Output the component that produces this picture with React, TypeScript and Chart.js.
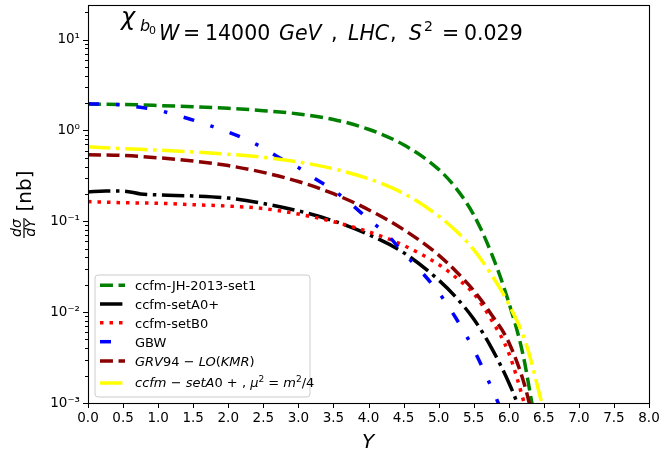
import React, { useEffect, useRef } from "react";
import { Chart, registerables } from "chart.js";
Chart.register(...registerables);

const FONT = "DejaVu Sans";

// ---- data ----
const seriesNames = [
  "ccfm-JH-2013-set1",
  "ccfm-setA0+",
  "ccfm-setB0",
  "GBW",
  "GRV94 − LO(KMR)",
  "ccfm − setA0 + , μ² = m²/4",
];

const greenX = [0, 0.5, 1, 1.5, 2, 2.5, 3, 3.5, 4, 4.5, 5, 5.25, 5.5, 5.75, 6, 6.2, 6.33, 6.45];
const greenV = [1.95, 1.93, 1.88, 1.82, 1.75, 1.65, 1.52, 1.32, 1.03, 0.695, 0.373, 0.23, 0.118, 0.045, 0.0128, 0.0035, 0.001, 0.0003];

const blackX = [0, 0.25, 0.5, 0.75, 1, 1.5, 2, 2.5, 3, 3.5, 4, 4.5, 5, 5.25, 5.5, 5.75, 6, 6.12, 6.25];
const blackV = [0.21, 0.215, 0.215, 0.2, 0.195, 0.19, 0.18, 0.157, 0.13, 0.101, 0.0716, 0.0452, 0.0226, 0.0145, 0.0084, 0.0041, 0.00168, 0.001, 0.0005];

const redX = [0, 0.5, 1, 1.5, 2, 2.5, 3, 3.5, 4, 4.5, 5, 5.25, 5.5, 5.75, 6, 6.22, 6.4];
const redV = [0.165, 0.16, 0.158, 0.152, 0.147, 0.138, 0.12, 0.099, 0.0767, 0.0543, 0.0335, 0.024, 0.016, 0.0083, 0.00355, 0.001, 0.0003];

const blueX = [0, 0.5, 0.8, 1, 1.25, 1.5, 1.75, 2, 2.25, 2.5, 2.75, 3, 3.25, 3.5, 3.75, 4, 4.25, 4.5, 4.75, 5, 5.25, 5.5, 5.75, 5.85, 6.0];
const blueV = [1.96, 1.9, 1.77, 1.67, 1.48, 1.3, 1.12, 0.96, 0.8, 0.64, 0.49, 0.39, 0.29, 0.22, 0.155, 0.105, 0.073, 0.045, 0.028, 0.0165, 0.0085, 0.0039, 0.0015, 0.001, 0.0005];

const maroonX = [0, 0.5, 1, 1.5, 2, 2.5, 3, 3.5, 4, 4.5, 5, 5.25, 5.5, 5.75, 6, 6.25, 6.4];
const maroonV = [0.54, 0.53, 0.5, 0.46, 0.41, 0.345, 0.274, 0.201, 0.134, 0.081, 0.0425, 0.028, 0.0173, 0.0095, 0.00466, 0.00135, 0.0004];

const yellowX = [0, 0.5, 1, 1.5, 2, 2.5, 3, 3.5, 4, 4.5, 5, 5.25, 5.5, 5.75, 6, 6.25, 6.47, 6.6];
const yellowV = [0.66, 0.63, 0.607, 0.579, 0.547, 0.505, 0.45, 0.378, 0.294, 0.203, 0.114, 0.078, 0.0488, 0.026, 0.01225, 0.0044, 0.001, 0.0004];

const xMin = 0;
const xMax = 8;
const xStep = 0.5;
const yMin = 1e-3;
const yMax = 24;
const yTickValues = [1e-3, 1e-2, 1e-1, 1, 10];
const yTickLabels = ["10⁻³", "10⁻²", "10⁻¹", "10⁰", "10¹"];

// ---- styles ----
const LW = 3.5;
const styles = [
  { color: "#008000", dash: [12.95, 5.6] },
  { color: "#000000", dash: [22.4, 5.6, 3.5, 5.6] },
  { color: "#ff0000", dash: [3.5, 6] },
  { color: "#0000ff", dash: [11, 17, 3.5, 17] },
  { color: "#8b0000", dash: [12.95, 5.6] },
  { color: "#ffff00", dash: [22.4, 5.6, 3.5, 5.6] },
];

const allX = [greenX, blackX, redX, blueX, maroonX, yellowX];
const allV = [greenV, blackV, redV, blueV, maroonV, yellowV];

type Run = { t: string; f: string; dy?: number; x?: number };
function drawRuns(ctx: CanvasRenderingContext2D, x: number, y: number, runs: Run[]) {
  let cx = x;
  for (const r of runs) {
    ctx.font = r.f;
    if (r.x !== undefined) cx = r.x;
    ctx.fillText(r.t, cx, y + (r.dy || 0));
    cx += ctx.measureText(r.t).width;
  }
  return cx;
}

const it = (s: number) => `italic ${s}px ${FONT}`;
const rm = (s: number) => `${s}px ${FONT}`;

const legendRuns: Run[][] = [
  [{ t: "ccfm-JH-2013-set1", f: rm(13) }],
  [{ t: "ccfm-setA0+", f: rm(13) }],
  [{ t: "ccfm-setB0", f: rm(13) }],
  [{ t: "GBW", f: rm(13) }],
  [
    { t: "GRV", f: it(13) },
    { t: "94", f: rm(13) },
    { t: " − ", f: rm(13) },
    { t: "LO", f: it(13) },
    { t: "(", f: rm(13) },
    { t: "KMR", f: it(13) },
    { t: ")", f: rm(13) },
  ],
  [
    { t: "ccfm", f: it(13) },
    { t: " − ", f: rm(13) },
    { t: "setA", f: it(13) },
    { t: "0 + , ", f: rm(13) },
    { t: "μ", f: it(13) },
    { t: "2", f: rm(9), dy: -5 },
    { t: " = ", f: rm(13) },
    { t: "m", f: it(13) },
    { t: "2", f: rm(9), dy: -5 },
    { t: "/4", f: rm(13) },
  ],
];

const TS = 20.5;
const titleRuns: Run[] = [
  { t: "W", f: it(TS), x: 159 },
  { t: "=", f: rm(TS), x: 183 },
  { t: "14000", f: rm(TS), x: 205 },
  { t: "GeV", f: it(TS), x: 279 },
  { t: ",", f: rm(TS), x: 331 },
  { t: "LHC", f: it(TS), x: 348 },
  { t: ",", f: rm(TS), x: 390 },
  { t: "S", f: it(TS), x: 409 },
  { t: "2", f: rm(14), dy: -9, x: 424 },
  { t: "=", f: rm(TS), x: 442 },
  { t: "0.029", f: rm(TS), x: 464 },
];

const decoPlugin = {
  id: "deco",
  afterDatasetsDraw(chart: any) {
    const { ctx, chartArea: ca, scales } = chart;
    const xs = scales.x;
    const ys = scales.y;
    ctx.save();
    ctx.fillStyle = "#000";
    ctx.strokeStyle = "#000";

    // frame
    ctx.lineWidth = 1.1;
    ctx.strokeRect(Math.round(ca.left) + 0.5, Math.round(ca.top) + 0.5, Math.round(ca.right - ca.left), Math.round(ca.bottom - ca.top));

    // x ticks
    ctx.lineWidth = 1;
    ctx.beginPath();
    for (let v = xMin; v <= xMax + 1e-9; v += xStep) {
      const px = Math.round(xs.getPixelForValue(v)) + 0.5;
      ctx.moveTo(px, ca.bottom);
      ctx.lineTo(px, ca.bottom + 5);
    }
    // y ticks (major + minor)
    for (let e = -3; e <= 1; e++) {
      for (let m = 1; m <= 9; m++) {
        const v = m * Math.pow(10, e);
        if (v < yMin * 0.999 || v > yMax) continue;
        const py = Math.round(ys.getPixelForValue(v)) + 0.5;
        const len = m === 1 ? 5 : 3;
        ctx.moveTo(ca.left, py);
        ctx.lineTo(ca.left - len, py);
      }
    }
    ctx.stroke();

    // title
    ctx.textAlign = "left";
    ctx.textBaseline = "alphabetic";
    drawRuns(ctx, 121, 25, [{ t: "χ", f: it(24) }]);
    drawRuns(ctx, 140, 31, [{ t: "b", f: it(16) }]);
    drawRuns(ctx, 149, 34, [{ t: "0", f: rm(11) }]);
    drawRuns(ctx, 159, 40, titleRuns);

    // x label
    ctx.textAlign = "center";
    ctx.font = it(20);
    ctx.fillText("Y", 368, 448);

    // y label
    ctx.save();
    ctx.translate(31, 191);
    ctx.rotate(-Math.PI / 2);
    ctx.textAlign = "center";
    ctx.font = rm(20);
    ctx.fillText("[nb]", 0, 0);
    ctx.restore();

    ctx.save();
    ctx.translate(24, 228);
    ctx.rotate(-Math.PI / 2);
    ctx.textAlign = "center";
    ctx.font = it(14);
    ctx.fillText("dσ", 0, -3);
    ctx.fillText("dY", 0, 11);
    ctx.fillRect(-10, -0.6, 20, 1.2);
    ctx.restore();

    // legend
    const lx = 95, ly = 275, lw = 215, lh = 122, r = 3;
    ctx.beginPath();
    ctx.moveTo(lx + r, ly);
    ctx.arcTo(lx + lw, ly, lx + lw, ly + lh, r);
    ctx.arcTo(lx + lw, ly + lh, lx, ly + lh, r);
    ctx.arcTo(lx, ly + lh, lx, ly, r);
    ctx.arcTo(lx, ly, lx + lw, ly, r);
    ctx.closePath();
    ctx.fillStyle = "rgba(255,255,255,0.8)";
    ctx.fill();
    ctx.strokeStyle = "#cccccc";
    ctx.lineWidth = 1;
    ctx.stroke();

    const handleY = [285.3, 304, 322.7, 341.7, 361, 383];
    const baseY = [290, 309, 327.7, 346.7, 365.7, 386.7];
    chart.data.datasets.forEach((ds: any, i: number) => {
      ctx.save();
      ctx.strokeStyle = ds.borderColor;
      ctx.lineWidth = ds.borderWidth;
      ctx.setLineDash(ds.borderDash);
      ctx.lineCap = "butt";
      ctx.beginPath();
      ctx.moveTo(100, handleY[i]);
      ctx.lineTo(125, handleY[i]);
      ctx.stroke();
      ctx.restore();
      ctx.fillStyle = "#000";
      ctx.textAlign = "left";
      drawRuns(ctx, 135, baseY[i], legendRuns[i]);
    });

    ctx.restore();
  },
};

const zeroPad = (s: any) => {
  s.paddingTop = 0;
  s.paddingBottom = 0;
  s.paddingLeft = 0;
  s.paddingRight = 0;
};

export default function App() {
  const ref = useRef<HTMLCanvasElement>(null);
  useEffect(() => {
    document.body.style.margin = "0";
    if (!ref.current) return;
    const datasets = seriesNames.map((name, i) => ({
      label: name,
      data: allX[i].map((x, k) => ({ x, y: allV[i][k] })),
      borderColor: styles[i].color,
      backgroundColor: styles[i].color,
      borderWidth: LW,
      borderDash: styles[i].dash,
      borderCapStyle: "butt" as const,
      pointRadius: 0,
      fill: false,
      cubicInterpolationMode: "monotone" as const,
      order: seriesNames.length - i,
    }));
    const chart = new Chart(ref.current, {
      type: "line",
      data: { datasets },
      options: {
        responsive: false,
        animation: false,
        devicePixelRatio: 1,
        layout: { padding: { left: 0, top: 5, right: 10, bottom: 0 } },
        plugins: {
          legend: { display: false },
          tooltip: { enabled: false },
          title: { display: false },
        },
        scales: {
          x: {
            type: "linear",
            min: xMin,
            max: xMax,
            grid: { display: false, drawTicks: false },
            border: { display: false },
            ticks: {
              stepSize: xStep,
              padding: 7,
              color: "#000",
              autoSkip: false,
              maxRotation: 0,
              font: { family: FONT, size: 13.5 },
              callback: (v: any) => Number(v).toFixed(1),
            },
            afterFit: (s: any) => {
              s.height = 49;
              zeroPad(s);
            },
          },
          y: {
            type: "logarithmic",
            min: yMin,
            max: yMax,
            grid: { display: false, drawTicks: false },
            border: { display: false },
            afterBuildTicks: (s: any) => {
              s.ticks = yTickValues.map((v) => ({ value: v }));
            },
            ticks: {
              padding: 8,
              color: "#000",
              autoSkip: false,
              font: { family: FONT, size: 13.5 },
              callback: (v: any) => {
                const idx = yTickValues.findIndex((t) => Math.abs(t - v) / t < 1e-6);
                return idx >= 0 ? yTickLabels[idx] : "";
              },
            },
            afterFit: (s: any) => {
              s.width = 88;
              zeroPad(s);
            },
          },
        },
      },
      plugins: [decoPlugin],
    });
    return () => chart.destroy();
  }, []);
  return (
    <div style={{ width: 659, height: 452, background: "#fff" }}>
      <canvas ref={ref} width={659} height={452} style={{ display: "block" }} />
    </div>
  );
}
